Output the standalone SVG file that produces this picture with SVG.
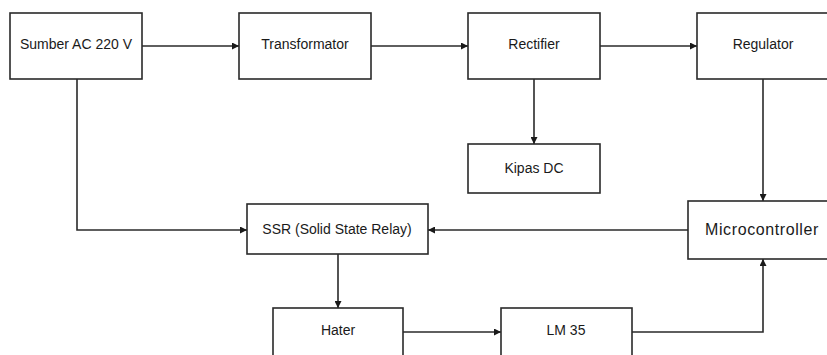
<svg xmlns="http://www.w3.org/2000/svg" width="827" height="355" viewBox="0 0 827 355">
  <style>
    .box { fill: #ffffff; stroke: #2a2a2a; stroke-width: 1.6; }
    .lbl { font-family: "Liberation Sans", Arial, sans-serif; font-size: 14px; fill: #1a1a1a; text-anchor: middle; dominant-baseline: central; }
    .big { font-size: 16px; letter-spacing: 0.6px; }
    .wire { fill: none; stroke: #2a2a2a; stroke-width: 1.6; }
  </style>
  <defs>
    <marker id="arrow" viewBox="0 0 10 10" refX="10" refY="5" markerWidth="5" markerHeight="5" orient="auto" markerUnits="userSpaceOnUse">
      <path d="M0,0 L10,5 L0,10 z" fill="#1a1a1a"/>
    </marker>
    <marker id="tri" viewBox="0 0 10 10" refX="10" refY="5" markerWidth="8" markerHeight="7" orient="auto" markerUnits="userSpaceOnUse">
      <path d="M0,0 L10,5 L0,10 z" fill="#1a1a1a"/>
    </marker>
  </defs>
  <rect width="827" height="355" fill="#ffffff"/>

  <g id="connectors">
    <path class="wire" d="M142,46 H239" marker-end="url(#tri)"/>
    <path class="wire" d="M371,46 H468" marker-end="url(#tri)"/>
    <path class="wire" d="M600,46 H697" marker-end="url(#tri)"/>
    <path class="wire" d="M534,79 V144" marker-end="url(#tri)"/>
    <path class="wire" d="M763,79 V201" marker-end="url(#tri)"/>
    <path class="wire" d="M77,79 V230 H247" marker-end="url(#tri)"/>
    <path class="wire" d="M688,230 H428" marker-end="url(#tri)"/>
    <path class="wire" d="M338,254 V308" marker-end="url(#tri)"/>
    <path class="wire" d="M403,332 H501" marker-end="url(#tri)"/>
    <path class="wire" d="M632,332 H763 V259" marker-end="url(#tri)"/>
  </g>

  <g id="sumber-ac">
    <rect class="box" x="10" y="13" width="132" height="66"/>
    <text class="lbl" x="76" y="44">Sumber AC 220 V</text>
  </g>
  <g id="transformator">
    <rect class="box" x="239" y="13" width="132" height="66"/>
    <text class="lbl" x="305" y="44">Transformator</text>
  </g>
  <g id="rectifier">
    <rect class="box" x="468" y="13" width="132" height="66"/>
    <text class="lbl" x="534" y="44">Rectifier</text>
  </g>
  <g id="regulator">
    <rect class="box" x="697" y="13" width="132" height="66"/>
    <text class="lbl" x="763" y="44">Regulator</text>
  </g>
  <g id="kipas-dc">
    <rect class="box" x="468" y="144" width="132" height="49"/>
    <text class="lbl" x="534" y="168">Kipas DC</text>
  </g>
  <g id="ssr">
    <rect class="box" x="247" y="204" width="181" height="50"/>
    <text class="lbl" x="337" y="229">SSR (Solid State Relay)</text>
  </g>
  <g id="microcontroller">
    <rect class="box" x="688" y="201" width="150" height="58"/>
    <text class="lbl big" x="762" y="229">Microcontroller</text>
  </g>
  <g id="hater">
    <rect class="box" x="273" y="308" width="130" height="52"/>
    <text class="lbl" x="338" y="330">Hater</text>
  </g>
  <g id="lm35">
    <rect class="box" x="501" y="308" width="131" height="52"/>
    <text class="lbl" x="566" y="330">LM 35</text>
  </g>
</svg>
